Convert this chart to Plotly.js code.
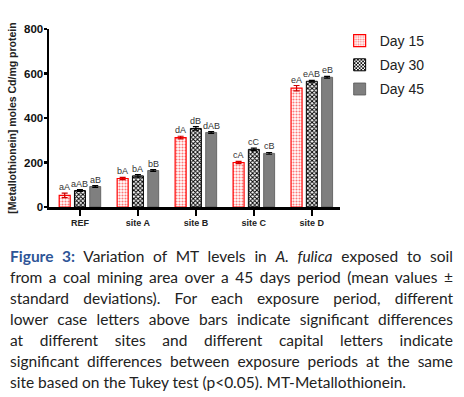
<!DOCTYPE html>
<html><head><meta charset="utf-8">
<script src="https://cdn.plot.ly/plotly-3.0.1.min.js"></script>
<style>
html,body{margin:0;padding:0;background:#fff;}
#wrap{position:relative;width:464px;height:397px;overflow:hidden;}
#chart{position:absolute;left:0;top:0;width:464px;height:397px;}
#cap{position:absolute;left:10px;top:246px;width:443px;font-family:Lato,'Open Sans',sans-serif;font-size:15.5px;line-height:21px;color:#222;}
#cap div{text-align:justify;text-align-last:justify;white-space:nowrap;}
#cap div.last{text-align-last:left;}
#cap b{color:#2e5597;}
</style></head>
<body><div id="wrap"><div id="chart"></div>
<div id="cap">
<div><b>Figure 3:</b> Variation of MT levels in <i>A. fulica</i> exposed to soil</div>
<div>from a coal mining area over a 45 days period (mean values ±</div>
<div>standard deviations). For each exposure period, different</div>
<div>lower case letters above bars indicate significant differences</div>
<div>at different sites and different capital letters indicate</div>
<div>significant differences between exposure periods at the same</div>
<div class="last">site based on the Tukey test (p&lt;0.05). MT-Metallothionein.</div>
</div>
</div>
<script>
const categories = ["REF", "site A", "site B", "site C", "site D"];
const seriesNames = ["Day 15", "Day 30", "Day 45"];
const day15 = [52, 128, 312, 200, 534];
const day30 = [74, 140, 353, 259, 565];
const day45 = [92, 164, 335, 241, 583];
const err15 = [10, 5, 6, 5, 12];
const err30 = [4, 6, 8, 6, 4];
const err45 = [4, 4, 4, 4, 4];
const letters15 = ["aA", "bA", "dA", "cA", "eA"];
const letters30 = ["aAB", "bA", "dB", "cC", "eAB"];
const letters45 = ["aB", "bB", "dAB", "cB", "eB"];
const yTicks = [0, 200, 400, 600, 800];

const vals = [day15, day30, day45];
const errs = [err15, err30, err45];
const lets = [letters15, letters30, letters45];
const styles = [
  {color:'#ffffff', line:{color:'#ff0000', width:1.2}, pattern:{shape:'.', fgcolor:'#ff7777', bgcolor:'#ffffff', size:3, solidity:0.4}},
  {color:'#ffffff', line:{color:'#000000', width:1}, pattern:{shape:'x', fgcolor:'#000000', bgcolor:'#ffffff', size:3, solidity:0.55}},
  {color:'#7f7f7f', line:{color:'#555555', width:0.8}}
];
const errColors = ['#cc0000', '#000000', '#000000'];
const traces = vals.map((v, i) => ({
  type:'bar', x:categories, y:v, name:seriesNames[i], legendgroup:'g' + i,
  marker:styles[i],
  error_y:{type:'data', array:errs[i], visible:true, color:errColors[i], thickness:1.2, width:3}
}));

const bargap = 0.21, groupw = 1 - bargap, slot = groupw / 3;
const annotations = [];
vals.forEach((v, i) => {
  v.forEach((val, j) => {
    annotations.push({x: j + (i - 1) * slot, y: val + errs[i][j], xref:'x', yref:'y',
      text: lets[i][j], showarrow:false, yanchor:'bottom', yshift:-1,
      font:{family:'Liberation Sans, Arial', size:9, color:'#333'}});
  });
});

const layout = {
  width:464, height:397,
  margin:{l:49, r:120, t:29, b:190},
  paper_bgcolor:'rgba(0,0,0,0)', plot_bgcolor:'rgba(0,0,0,0)',
  barmode:'group', bargap:bargap, bargroupgap:0.28,
  showlegend:true,
  legend:{x:0.732, xref:'container', y:0.937, yref:'container', xanchor:'left', yanchor:'top', tracegroupgap:3,
    font:{family:'Liberation Sans, Arial', size:14, color:'#222'}, itemwidth:30, bgcolor:'rgba(0,0,0,0)'},
  xaxis:{showline:true, linecolor:'#000', linewidth:2.5, ticks:'outside', ticklen:6, tickwidth:2.5, tickcolor:'#000',
    tickfont:{family:'Liberation Sans, Arial', size:9, color:'#222', weight:'bold'}, range:[-0.534, 4.48], fixedrange:true},
  yaxis:{range:[0, 800], tickvals:yTicks, showline:true, linecolor:'#000', linewidth:2.5, ticks:'outside', ticklen:3, tickwidth:2.5, tickcolor:'#000',
    showgrid:false, zeroline:false, ticklabelstandoff:-2,
    tickfont:{family:'Liberation Sans, Arial', size:11.5, color:'#111', weight:'bold'},
    title:{text:'[Metallothionein] moles Cd/mg protein', standoff:6, font:{family:'Liberation Sans, Arial', size:10.5, color:'#222', weight:'bold'}}},
  annotations:annotations
};
Plotly.newPlot('chart', traces, layout, {staticPlot:true, displayModeBar:false});
</script></body></html>
